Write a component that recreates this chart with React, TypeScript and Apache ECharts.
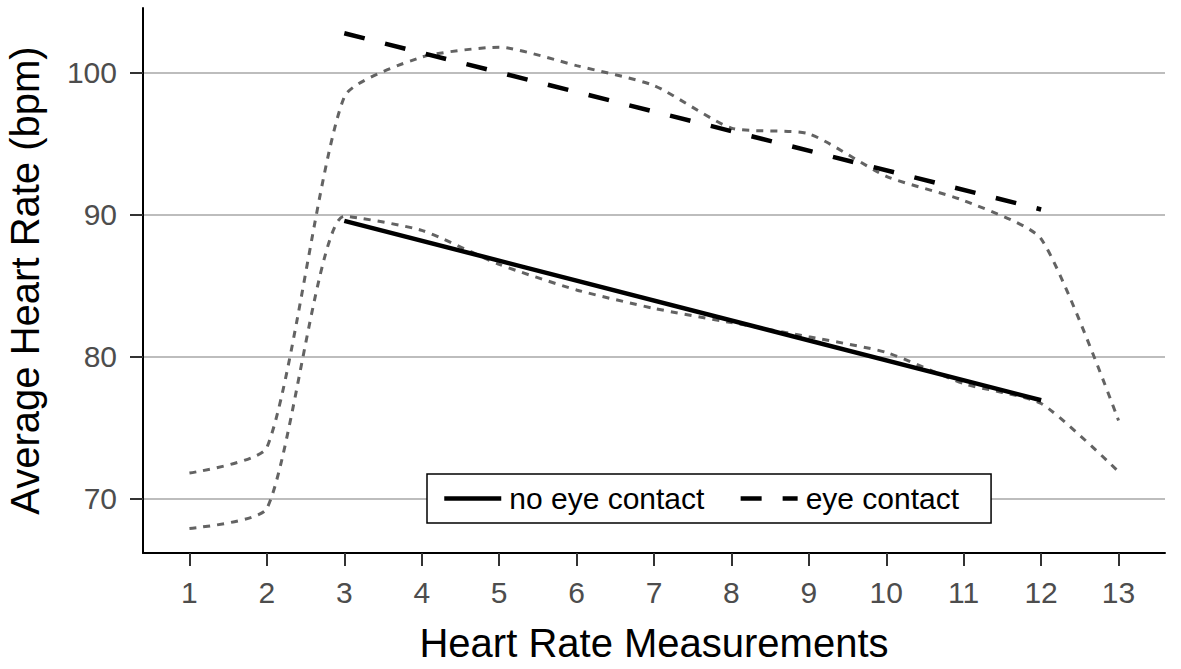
import React, { useEffect, useRef } from "react";
import * as echarts from "echarts";

const measurements = [1, 2, 3, 4, 5, 6, 7, 8, 9, 10, 11, 12, 13];
const eyeContactRaw = [71.8, 73.6, 98.3, 101.1, 101.8, 100.5, 99.1, 96.1, 95.7, 92.7, 91.0, 88.3, 75.5];
const noEyeContactRaw = [67.9, 69.3, 89.9, 88.9, 86.5, 84.7, 83.4, 82.4, 81.4, 80.3, 78.1, 76.7, 71.9];
const fitX = [3, 12];
const noEyeContactFit = [89.57, 76.93];
const eyeContactFit = [102.78, 90.37];
const yTicks = [70, 80, 90, 100];
const legendNames = ["no eye contact", "eye contact"];

const FONT = "'Liberation Sans', Arial, sans-serif";

export default function App() {
  const ref = useRef<HTMLDivElement>(null);

  useEffect(() => {
    document.body.style.margin = "0";
    if (!ref.current) return;
    const chart = echarts.init(ref.current, null, { renderer: "svg" });

    const pairs = (xs: number[], ys: number[]) => xs.map((x, i) => [x, ys[i]]);

    const rawStyle = {
      color: "#636363",
      width: 3,
      type: [7, 7] as any,
    };

    chart.setOption({
      animation: false,
      backgroundColor: "#ffffff",
      textStyle: { fontFamily: FONT },
      grid: {
        left: 143,
        right: 16,
        top: 8,
        bottom: 116,
        containLabel: false,
        outerBoundsMode: "none",
      },
      legend: {
        data: legendNames,
        left: 427,
        top: 474,
        orient: "horizontal",
        itemWidth: 57,
        itemHeight: 14,
        itemGap: 34,
        padding: [9.5, 32, 9.5, 15],
        borderColor: "#000000",
        borderWidth: 1.5,
        borderRadius: 0,
        backgroundColor: "#ffffff",
        selectedMode: false,
        itemStyle: { opacity: 0 },
        lineStyle: { width: 4.5 },
        textStyle: {
          fontSize: 30,
          color: "#000000",
          fontFamily: FONT,
          lineHeight: 30,
          padding: [0, 0, 0, 3],
        },
      },
      xAxis: {
        type: "value",
        min: 0.4,
        max: 13.6,
        name: "Heart Rate Measurements",
        nameLocation: "middle",
        nameGap: 70,
        nameTextStyle: { fontSize: 40, color: "#000000", fontFamily: FONT },
        axisLine: { show: true, onZero: false, lineStyle: { color: "#000000", width: 2 } },
        axisTick: {
          show: true,
          customValues: measurements,
          length: 13,
          lineStyle: { color: "#333333", width: 2 },
        },
        axisLabel: {
          customValues: measurements,
          fontSize: 30,
          color: "#4d4d4d",
          margin: 24,
          fontFamily: FONT,
        },
        splitLine: { show: false },
      },
      yAxis: {
        type: "value",
        min: 66.17,
        max: 104.56,
        name: "Average Heart Rate (bpm)",
        nameLocation: "middle",
        nameGap: 98,
        nameRotate: 90,
        nameTextStyle: { fontSize: 40, color: "#000000", fontFamily: FONT },
        axisLine: { show: true, onZero: false, lineStyle: { color: "#000000", width: 2 } },
        axisTick: {
          show: true,
          customValues: yTicks,
          length: 13,
          lineStyle: { color: "#333333", width: 2 },
        },
        axisLabel: {
          customValues: yTicks,
          fontSize: 30,
          color: "#4d4d4d",
          margin: 26,
          fontFamily: FONT,
        },
        splitLine: { show: true, lineStyle: { color: "#bdbdbd", width: 2 } },
      },
      series: [
        {
          name: "eye contact (raw)",
          type: "line",
          data: pairs(measurements, eyeContactRaw),
          symbol: "none",
          smooth: 0.2,
          lineStyle: rawStyle,
          z: 2,
        },
        {
          name: "no eye contact (raw)",
          type: "line",
          data: pairs(measurements, noEyeContactRaw),
          symbol: "none",
          smooth: 0.2,
          lineStyle: rawStyle,
          z: 2,
        },
        {
          name: legendNames[0],
          type: "line",
          data: pairs(fitX, noEyeContactFit),
          symbol: "none",
          color: "#000000",
          lineStyle: { color: "#000000", width: 4.5, type: "solid" },
          z: 3,
        },
        {
          name: legendNames[1],
          type: "line",
          data: pairs(fitX, eyeContactFit),
          symbol: "none",
          color: "#000000",
          lineStyle: { color: "#000000", width: 4.5, type: [21, 21] },
          z: 3,
        },
      ],
    });

    return () => chart.dispose();
  }, []);

  return <div ref={ref} style={{ width: 1181, height: 669 }} />;
}
